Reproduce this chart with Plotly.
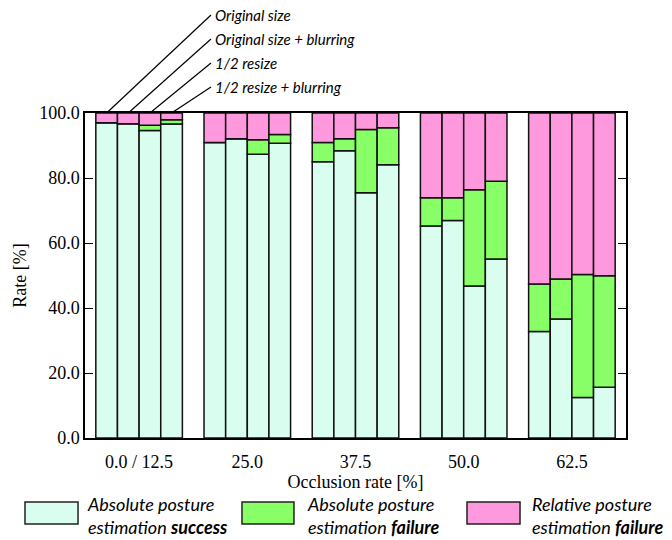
import plotly.graph_objects as go

categories = ["0.0 / 12.5", "25.0", "37.5", "50.0", "62.5"]
configs = ["Original size", "Original size + blurring", "1/2 resize", "1/2 resize + blurring"]

# Absolute posture estimation success [%]
success_orig = [97.0, 90.9, 85.0, 65.2, 32.8]
success_orig_blur = [96.7, 92.1, 88.4, 66.9, 36.6]
success_half = [94.6, 87.3, 75.5, 46.8, 12.5]
success_half_blur = [96.6, 90.7, 84.1, 55.1, 15.6]

# Absolute posture estimation failure [%]
absfail_orig = [0.0, 0.0, 5.9, 8.7, 14.6]
absfail_orig_blur = [0.0, 0.0, 3.7, 7.0, 12.3]
absfail_half = [1.6, 4.5, 19.4, 29.6, 37.8]
absfail_half_blur = [1.3, 2.7, 11.4, 23.9, 34.3]

# Relative posture estimation failure [%]
relfail_orig = [3.0, 9.1, 9.1, 26.1, 52.6]
relfail_orig_blur = [3.3, 7.9, 7.9, 26.1, 51.1]
relfail_half = [3.8, 8.2, 5.1, 23.6, 49.7]
relfail_half_blur = [2.1, 6.6, 4.5, 21.0, 50.1]

y_ticks = [0, 20, 40, 60, 80, 100]

success = [success_orig, success_orig_blur, success_half, success_half_blur]
absfail = [absfail_orig, absfail_orig_blur, absfail_half, absfail_half_blur]
relfail = [relfail_orig, relfail_orig_blur, relfail_half, relfail_half_blur]

C_SUCC = "#D9FDEF"
C_ABS = "#88FF66"
C_REL = "#FF99DD"
OUTLINE = dict(color="#111111", width=1.5)

fig = go.Figure()
for k in range(len(configs)):
    s, a, r = success[k], absfail[k], relfail[k]
    base_a = s
    base_r = [si + ai for si, ai in zip(s, a)]
    fig.add_trace(go.Bar(x=categories, y=s, base=[0] * len(s), offsetgroup=str(k),
                         marker=dict(color=C_SUCC, line=OUTLINE), showlegend=False))
    fig.add_trace(go.Bar(x=categories, y=a, base=base_a, offsetgroup=str(k),
                         marker=dict(color=C_ABS, line=OUTLINE), showlegend=False))
    fig.add_trace(go.Bar(x=categories, y=r, base=base_r, offsetgroup=str(k),
                         marker=dict(color=C_REL, line=OUTLINE), showlegend=False))

serif = "Liberation Serif, Times New Roman, serif"
sans = "Lato, Open Sans, sans-serif"

shapes = []
annotations = []
# leader lines from the first group's bars to configuration labels
ncat = len(categories)
bargap = 0.2
bw = (1 - bargap) / len(configs)
label_y = [1.3015, 1.2277, 1.1538, 1.0800]
label_x_end = 0.2329
for k, name in enumerate(configs):
    off = -0.5 + bargap / 2 + bw * (k + 0.5)
    xp = (0 + off + 0.5) / ncat
    shapes.append(dict(type="line", xref="paper", yref="paper", x0=xp, y0=1.0,
                       x1=label_x_end, y1=label_y[k], line=dict(color="black", width=1.2)))
    annotations.append(dict(xref="paper", yref="paper", x=label_x_end + 0.004, y=label_y[k],
                            text="<i>" + name + "</i>", showarrow=False, xanchor="left",
                            yanchor="middle", font=dict(family=sans, size=15, color="black")))

# custom legend
legend_items = [
    (C_SUCC, "<i>Absolute posture<br>estimation <b>success</b></i>", -0.1109, -0.0129, 0.0),
    (C_ABS, "<i>Absolute posture<br>estimation <b>failure</b></i>", 0.2902, 0.3863, 0.4067),
    (C_REL, "<i>Relative posture<br>estimation <b>failure</b></i>", 0.7061, 0.8041, 0.8226),
]
for col, txt, x0, x1, tx in legend_items:
    shapes.append(dict(type="rect", xref="paper", yref="paper", x0=x0, x1=x1,
                       y0=-0.1969, y1=-0.2646, fillcolor=col,
                       line=dict(color="#222222", width=1.5)))
    annotations.append(dict(xref="paper", yref="paper", x=tx, y=-0.237, text=txt,
                            showarrow=False, xanchor="left", yanchor="middle", align="left",
                            font=dict(family=sans, size=18, color="black")))

fig.update_layout(
    width=672, height=540,
    margin=dict(l=85, r=46, t=113, b=102, autoexpand=False),
    barmode="group", bargap=bargap, bargroupgap=0,
    plot_bgcolor="white", paper_bgcolor="white",
    shapes=shapes, annotations=annotations,
    font=dict(family=serif, size=18, color="black"),
)
fig.update_xaxes(
    showline=True, linecolor="black", linewidth=1.5, mirror=True,
    ticks="", showgrid=False, automargin=False, ticklabelstandoff=7,
    title=dict(text="Occlusion rate [%]", standoff=2, font=dict(family=serif, size=18)),
    tickfont=dict(family=serif, size=18),
)
fig.update_yaxes(
    range=[0, 100], tickvals=y_ticks, tickformat=".1f",
    showline=True, linecolor="black", linewidth=1.5, mirror="ticks",
    ticks="inside", ticklen=8, tickwidth=1.2, tickcolor="black",
    showgrid=False, zeroline=False, automargin=False,
    title=dict(text="Rate [%]", standoff=8, font=dict(family=serif, size=18)),
    tickfont=dict(family=serif, size=18),
)

fig.write_html("out.html", config={"displayModeBar": False},
               post_script="document.body.style.margin='0';")
